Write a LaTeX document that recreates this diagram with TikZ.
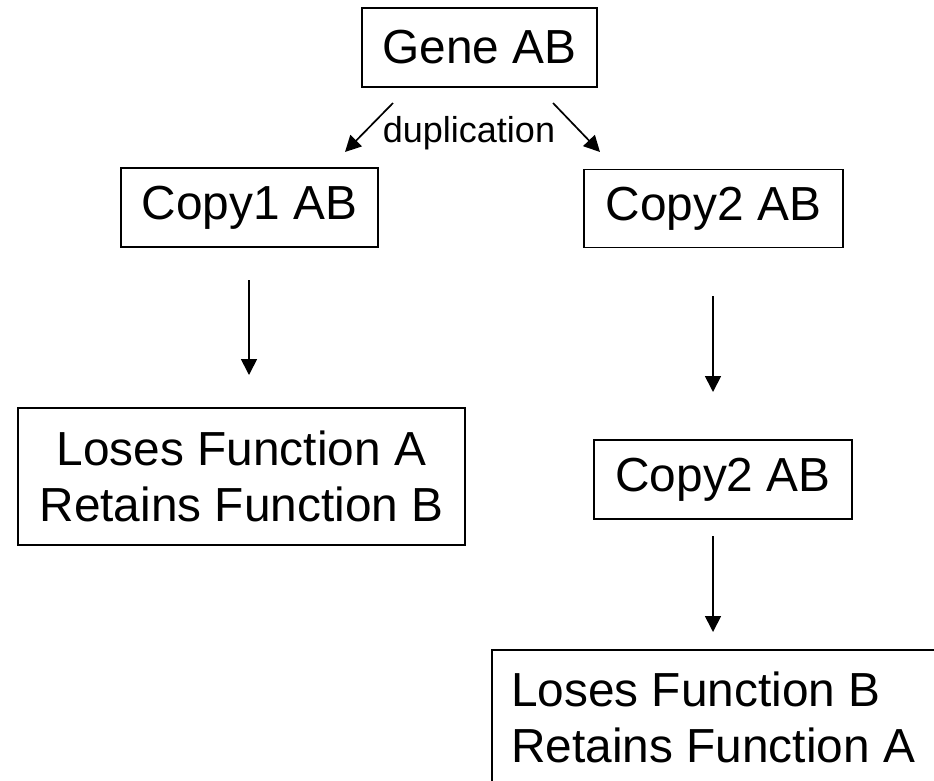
\documentclass[tikz,border=0pt]{standalone}
\usepackage{fontspec}
\setmainfont{Liberation Sans}
\usetikzlibrary{arrows.meta}
\begin{document}
\begin{tikzpicture}[x=1pt,y=-1pt,
  genebox/.style={draw=black,line width=1.7pt,rectangle,inner sep=0pt,
    font=\fontsize{47.8}{56}\selectfont,align=center},
  plaintext/.style={inner sep=0pt,font=\fontsize{47.8}{56}\selectfont,align=left},
  flow/.style={line width=1.7pt,-{Triangle[length=16pt,width=16pt]}},
  lbl/.style={font=\fontsize{36}{40}\selectfont,inner sep=0pt}]
  \useasboundingbox (0,0) rectangle (934,780);
  \begin{scope}
  \clip (0,0) rectangle (934,780);

  % boxes
  \node[genebox,minimum width=235pt,minimum height=79pt] (gene) at (479.5,47.5) {Gene AB};
  \node[genebox,minimum width=257pt,minimum height=79pt] (copy1) at (249.5,207.5) {Copy1 AB};
  \node[genebox,minimum width=259pt,minimum height=78pt] (copy2) at (713.5,208.5) {Copy2 AB};
  \node[genebox,minimum width=258pt,minimum height=79pt] (copy2b) at (723,479.5) {Copy2 AB};
  \node[genebox,minimum width=447pt,minimum height=137pt] (losesA) at (241.5,476.5)
    {Loses Function A\\Retains Function B};

  % last box runs past the right and bottom edges
  \node[genebox,minimum width=520pt,minimum height=220pt,anchor=north west]
    (losesBframe) at (491,649) {};
  \node[plaintext,anchor=north west] (losesB) at (511,672)
    {Loses Function B\\Retains Function A};

  \node[lbl] (dup) at (469,133) {duplication};

  % arrow end points
  \coordinate (d1s) at (393,103);
  \coordinate (d1e) at (345,152);
  \coordinate (d2s) at (553,103);
  \coordinate (d2e) at (600,152);
  \coordinate (a1s) at (249,280);
  \coordinate (a1e) at (249,375);
  \coordinate (a2s) at (713,296);
  \coordinate (a2e) at (713,392);
  \coordinate (a3s) at (713,536);
  \coordinate (a3e) at (713,632);

  \draw[flow] (d1s) -- (d1e);
  \draw[flow] (d2s) -- (d2e);
  \draw[flow] (a1s) -- (a1e);
  \draw[flow] (a2s) -- (a2e);
  \draw[flow] (a3s) -- (a3e);
  \end{scope}
\end{tikzpicture}
\end{document}
